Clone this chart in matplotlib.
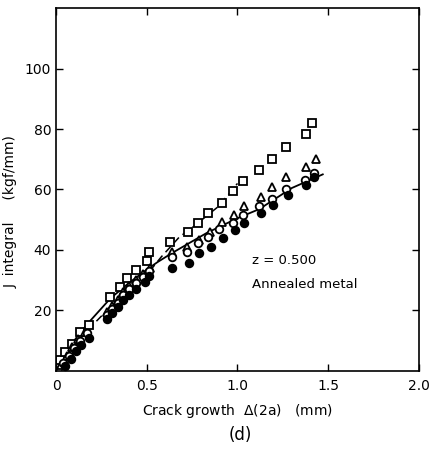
import numpy as np
from matplotlib import pyplot as plt

# squares
sq_x = [0.02, 0.05, 0.09, 0.13, 0.18, 0.30, 0.35, 0.39, 0.44, 0.50, 0.51,
        0.63, 0.73, 0.78, 0.84, 0.915, 0.975, 1.03, 1.12, 1.19, 1.27, 1.38, 1.41]
sq_y = [3.6, 6.3, 9.0, 12.9, 15.2, 24.5, 27.8, 30.7, 33.4, 36.5, 39.4,
        42.6, 46.0, 49.0, 52.2, 55.5, 59.5, 62.8, 66.4, 70.0, 74.0, 78.3, 82.0]

# triangles
tr_x = [0.03, 0.06, 0.09, 0.12, 0.16, 0.28, 0.31, 0.34, 0.37, 0.40, 0.44, 0.48, 0.52,
        0.64, 0.72, 0.79, 0.85, 0.915, 0.98, 1.036, 1.13, 1.19, 1.27, 1.38, 1.43]
tr_y = [2.0, 5.0, 8.0, 10.5, 13.0, 19.5, 21.5, 23.5, 26.0, 28.0, 30.0, 32.0, 34.0,
        39.4, 41.0, 43.3, 46.0, 49.3, 51.6, 54.5, 57.5, 60.8, 64.0, 67.4, 70.0]

# open circles
oc_x = [0.04, 0.07, 0.10, 0.13, 0.17, 0.28, 0.31, 0.34, 0.37, 0.40, 0.44, 0.48, 0.51,
        0.64, 0.72, 0.78, 0.84, 0.90, 0.975, 1.03, 1.12, 1.19, 1.27, 1.37, 1.42]
oc_y = [2.5, 5.0, 7.5, 10.0, 12.5, 18.5, 20.5, 22.5, 25.0, 27.0, 29.0, 31.0, 33.0,
        37.7, 39.4, 42.3, 44.3, 47.0, 49.0, 51.6, 54.5, 57.0, 60.0, 63.0, 65.5]

# filled circles
fc_x = [0.05, 0.08, 0.11, 0.14, 0.18, 0.28, 0.31, 0.34, 0.37, 0.40, 0.44, 0.49, 0.51,
        0.64, 0.733, 0.79, 0.854, 0.92, 0.986, 1.036, 1.13, 1.196, 1.28, 1.38, 1.42]
fc_y = [1.5, 4.0, 6.5, 8.5, 11.0, 17.0, 19.0, 21.0, 23.5, 25.0, 27.0, 29.5, 31.5,
        34.0, 35.7, 39.0, 41.0, 44.0, 46.6, 49.0, 52.2, 55.0, 58.2, 61.5, 64.0]

# solid curve
solid_x = [0.0, 0.05, 0.10, 0.18, 0.30, 0.40, 0.50, 0.56, 0.64, 0.83, 1.0, 1.12, 1.30, 1.47]
solid_y = [0.0, 5.5, 10.0, 16.0, 24.0, 29.0, 33.5, 36.0, 39.0, 45.6, 50.5, 53.5, 60.5, 65.0]

# dashed curve
dash_x = [0.03, 0.15, 0.33, 0.53, 0.58, 0.68, 0.755, 0.887, 0.96, 1.0]
dash_y = [0.0, 12.0, 23.0, 34.0, 37.7, 44.3, 47.6, 54.0, 59.0, 62.0]

plt.rcParams['font.family'] = 'DejaVu Sans'
fig = plt.figure(figsize=(4.31, 4.49), dpi=100)
ax = fig.add_axes([0.130, 0.174, 0.842, 0.808])

ax.plot(solid_x, solid_y, '-', color='black', lw=1.3)
ax.plot(dash_x, dash_y, '--', color='black', lw=1.1, dashes=(5, 3))

mk = dict(linestyle='none', markersize=5.5, markeredgewidth=1.3, color='black')
ax.plot(sq_x, sq_y, marker='s', markerfacecolor='white', **mk)
ax.plot(tr_x, tr_y, marker='^', markerfacecolor='white', **mk)
ax.plot(oc_x, oc_y, marker='o', markerfacecolor='white', **mk)
ax.plot(fc_x, fc_y, marker='o', markerfacecolor='black', **mk)

ax.set_xlim(0, 2.0)
ax.set_ylim(0, 120)
ax.set_xticks([0, 0.5, 1.0, 1.5, 2.0])
ax.set_xticklabels(['0', '0.5', '1.0', '1.5', '2.0'])
ax.set_yticks([20, 40, 60, 80, 100])
ax.tick_params(direction='in', top=True, right=True, length=5, width=1, labelsize=10)
ax.tick_params(axis='x', pad=6)
for s in ax.spines.values():
    s.set_linewidth(1.2)

ax.text(1.08, 35.5, 'z = 0.500', fontsize=9.5)
ax.text(1.08, 27.5, 'Annealed metal', fontsize=9.5)

ax.set_ylabel('J  integral     (kgf/mm)', fontsize=10)
ax.yaxis.set_label_coords(-0.105, 0.44)
ax.set_xlabel('Crack growth  $\\Delta$(2a)   (mm)', fontsize=10, labelpad=6)
fig.text(0.557, 0.02, '(d)', fontsize=12, ha='center')

plt.savefig('out.png', dpi=100)
